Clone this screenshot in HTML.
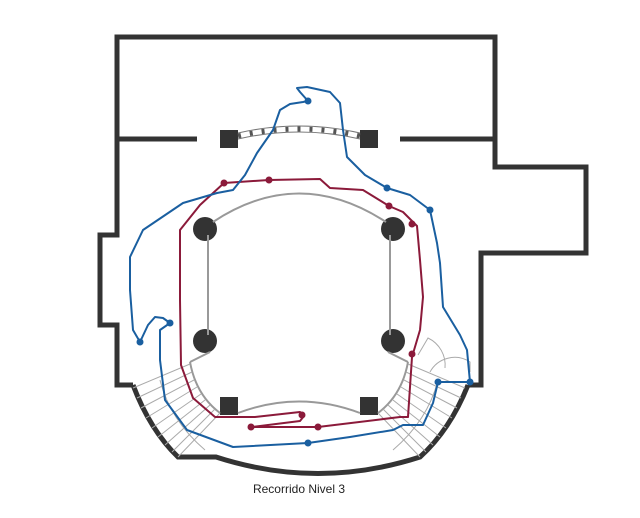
<!DOCTYPE html>
<html><head><meta charset="utf-8"><style>
body{margin:0;background:#fff;width:640px;height:518px;overflow:hidden}
svg{display:block}
</style></head><body>
<svg width="640" height="518" viewBox="0 0 640 518" xmlns="http://www.w3.org/2000/svg">
<g fill="none" stroke="#333" stroke-width="5" stroke-linejoin="miter">
<polyline points="133,385 117,385 117,325 100,325 100,235 117,235 117,37 495,37 495,167 586,167 586,253 481,253 481,385 468,385"/>
<path d="M133,385 Q150,430 178,457 L216,457 Q318,490 420,457 Q450,430 468,385"/>
<line x1="117" y1="139" x2="197" y2="139"/>
<line x1="400" y1="139" x2="495" y2="139"/>
</g>
<g fill="#333">
<rect x="220" y="130" width="18" height="18"/><rect x="360" y="130" width="18" height="18"/>
<rect x="220" y="397" width="18" height="18"/><rect x="360" y="397" width="18" height="18"/>
<circle cx="205" cy="229" r="12"/><circle cx="393" cy="229" r="12"/>
<circle cx="205" cy="341" r="12"/><circle cx="393" cy="341" r="12"/>
</g>
<path d="M238,136 Q299,122 360,136" stroke="#555" stroke-width="5" fill="none" stroke-dasharray="3,9"/>
<path d="M238,133 Q299,119 360,133 M238,139 Q299,125 360,139" stroke="#777" stroke-width="1" fill="none"/>
<g fill="none" stroke="#999" stroke-width="2">
<path d="M213,222 Q299,165 386,222"/>
<line x1="208" y1="235" x2="208" y2="335"/><line x1="390" y1="235" x2="390" y2="335"/>
<path d="M238,413 Q299,390 360,413"/>
<path d="M190,362 Q196,395 220,413"/><path d="M408,362 Q402,395 378,413"/>
<line x1="190" y1="362" x2="210" y2="352"/><line x1="408" y1="362" x2="388" y2="352"/>
</g>
<g stroke="#aaa" stroke-width="1" fill="none">
<path d="M133,388 L190,364 M137,398 L192,372 M141,408 L194,380 M146,418 L197,387 M152,428 L201,394 M158,437 L205,400 M165,445 L210,405 M172,452 L215,409 M178,457 L220,413"/>
<path d="M465,388 L408,364 M461,398 L406,372 M457,408 L404,380 M452,418 L401,387 M446,428 L397,394 M440,437 L393,400 M433,445 L388,405 M426,452 L383,409 M420,457 L378,413"/>
<path d="M160,380 Q170,420 205,450 M438,380 Q428,420 393,450"/>
<path d="M418,355 L428,338 A30,30 0 0 1 445,368 M430,372 A28,28 0 0 1 470,362 L470,372"/>
</g>
<g fill="none" stroke="#8b1a3a" stroke-width="2" stroke-linejoin="round">
<polyline points="252,427 300,421 304,416 300,412 255,417 215,417 193,398 181,365 180,300 180,230 200,205 224,183 269,180 320,179 330,188 363,190 389,206 403,212 417,226 420,260 423,297 420,330 412,357 408,417 400,417 318,427 252,427"/>
</g>
<g fill="#8b1a3a">
<circle cx="224" cy="183" r="3.5"/><circle cx="269" cy="180" r="3.5"/><circle cx="389" cy="206" r="3.5"/><circle cx="412" cy="224" r="3.5"/><circle cx="412" cy="354" r="3.5"/><circle cx="302" cy="415" r="3.5"/><circle cx="251" cy="427" r="3.5"/><circle cx="318" cy="427" r="3.5"/>
</g>
<g fill="none" stroke="#1a5fa0" stroke-width="2" stroke-linejoin="round">
<polyline points="308,101 300,92 297,88 307,87 330,92 340,103 343,130 347,157 365,175 387,188 410,195 430,210 437,243 440,263 443,307 460,335 467,350 470,382 438,382 433,403 423,425 403,425 393,430 350,437 308,443 233,447 187,430 165,400 160,360 160,330 170,323"/>
<polyline points="140,342 148,325 155,317 163,318 170,323"/>
<polyline points="140,342 133,330 130,290 130,257 143,230 183,203 217,193 233,190 245,175 257,153 273,130 280,110 290,104 303,102 308,101"/>
</g>
<g fill="#1a5fa0">
<circle cx="308" cy="101" r="3.5"/><circle cx="387" cy="188" r="3.5"/><circle cx="430" cy="210" r="3.5"/><circle cx="470" cy="382" r="3.5"/><circle cx="438" cy="382" r="3.5"/><circle cx="308" cy="443" r="3.5"/><circle cx="170" cy="323" r="3.5"/><circle cx="140" cy="342" r="3.5"/>
</g>
<text x="299" y="493" font-family="Liberation Sans, sans-serif" font-size="12" text-anchor="middle" fill="#222">Recorrido Nivel 3</text>
</svg>
</body></html>
